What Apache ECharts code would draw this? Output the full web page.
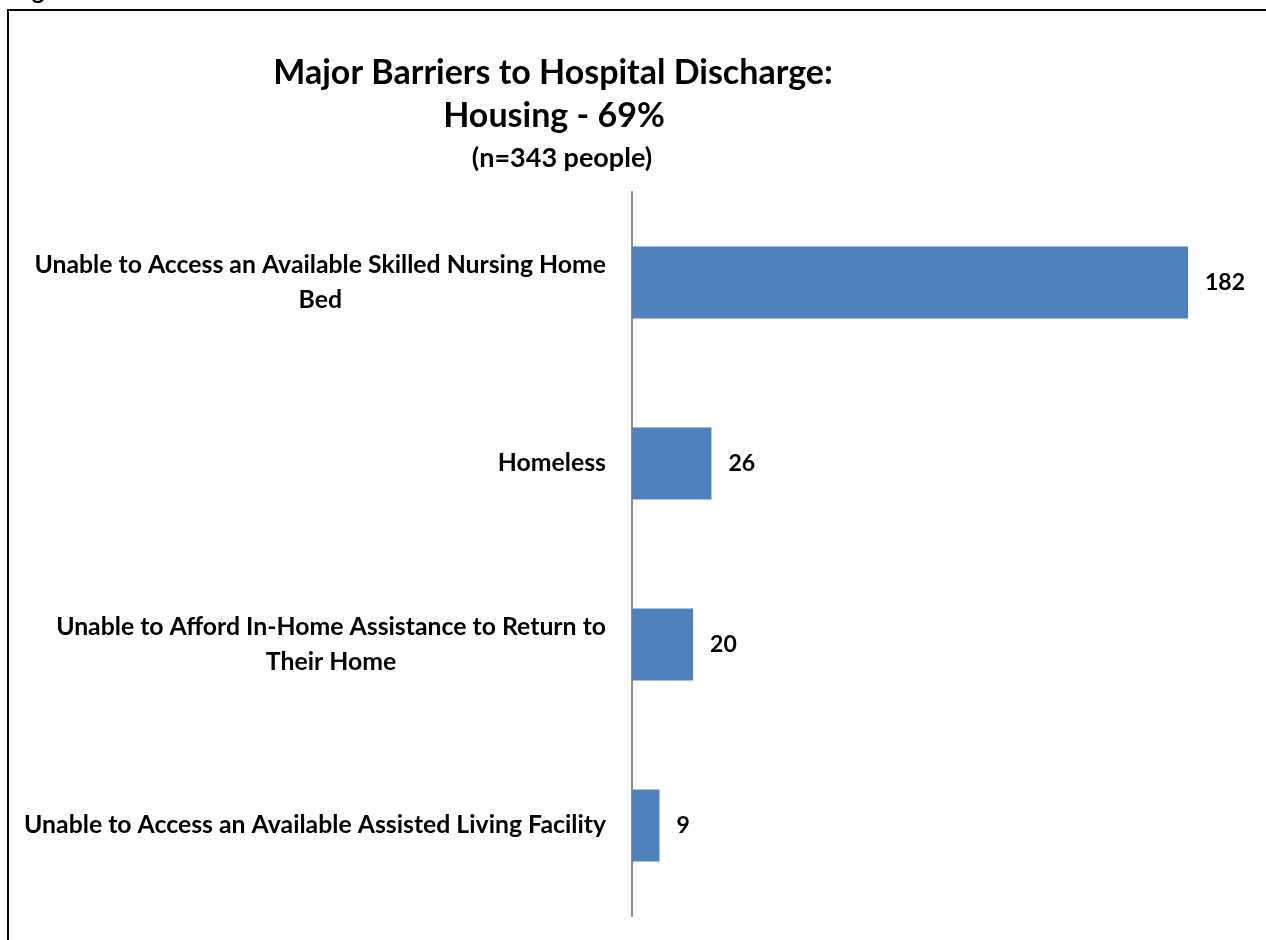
<!DOCTYPE html>
<html>
<head>
<meta charset="utf-8">
<script src="https://cdn.jsdelivr.net/npm/echarts@6/dist/echarts.min.js"></script>
<style>
  html, body { margin: 0; padding: 0; background: #fff; }
  #chart { width: 1266px; height: 940px; }
</style>
</head>
<body>
<div id="chart"></div>
<script>
// Discharge barriers related to housing (number of people)
const categories = [
  'Unable to Access an Available Skilled Nursing Home\nBed',
  'Homeless',
  'Unable to Afford In-Home Assistance to Return to\nTheir Home',
  'Unable to Access an Available Assisted Living Facility'
];
const counts = [182, 26, 20, 9];
const titleLines = [
  'Major Barriers to Hospital Discharge:',
  'Housing - 69%',
  '(n=343 people)'
];

const FONT = 'Lato, "Open Sans", sans-serif';

const chart = echarts.init(document.getElementById('chart'), null, { renderer: 'canvas' });

chart.setOption({
  backgroundColor: '#ffffff',
  animation: false,
  graphic: [
    // figure caption, mostly above the page edge
    {
      type: 'text', left: 12, top: -21, silent: true,
      style: { text: 'Figure 3', font: 'bold 24px ' + FONT, fill: '#000' }
    },
    // chart frame
    {
      type: 'rect', silent: true,
      shape: { x: 8, y: 10, width: 1300, height: 1000 },
      style: { fill: 'none', stroke: '#000', lineWidth: 2 }
    },
    {
      type: 'text', x: 553, y: 73, silent: true,
      style: { text: titleLines[0], font: 'bold 34px ' + FONT, fill: '#000', align: 'center', verticalAlign: 'middle' }
    },
    {
      type: 'text', x: 554, y: 116, silent: true,
      style: { text: titleLines[1], font: 'bold 34px ' + FONT, fill: '#000', align: 'center', verticalAlign: 'middle' }
    },
    {
      type: 'text', x: 562, y: 158, silent: true,
      style: { text: titleLines[2], font: 'bold 27px ' + FONT, fill: '#000', align: 'center', verticalAlign: 'middle' }
    }
  ],
  grid: { left: 632, right: 23, top: 192, bottom: 24, containLabel: false },
  xAxis: {
    type: 'value', min: 0, max: 200,
    axisLine: { show: false }, axisTick: { show: false },
    axisLabel: { show: false }, splitLine: { show: false }
  },
  yAxis: {
    type: 'category', inverse: true, data: categories,
    axisLine: { show: true, lineStyle: { color: '#8c8c8c', width: 2 } },
    axisTick: { show: false },
    axisLabel: {
      margin: 26,
      formatter: function (v) {
        return v.split('\n').map(function (s) { return '{c|' + s + '}'; }).join('\n');
      },
      rich: {
        c: { align: 'center', fontFamily: FONT, fontWeight: 'bold', fontSize: 24.8, lineHeight: 35, color: '#000' }
      }
    }
  },
  series: [{
    type: 'bar',
    data: counts,
    barWidth: 72,
    itemStyle: { color: '#4f81bd' },
    label: {
      show: true, position: 'right', distance: 17,
      fontFamily: FONT, fontWeight: 'bold', fontSize: 23, color: '#000'
    }
  }]
});
</script>
</body>
</html>
